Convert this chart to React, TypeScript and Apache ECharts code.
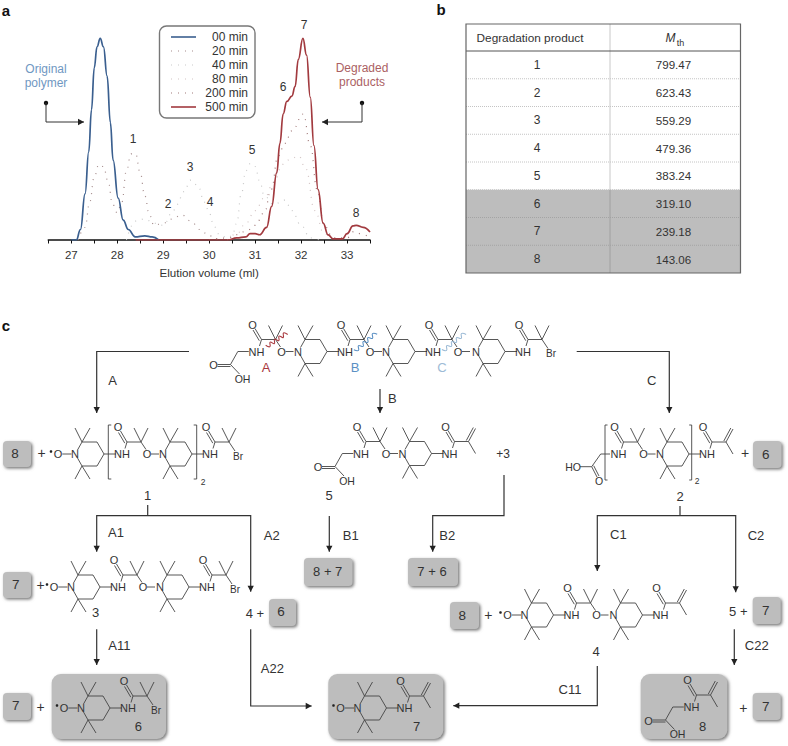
import React, { useEffect, useRef } from "react";
import * as echarts from "echarts";

const min00: number[][] = [[27.0,0],[27.11,0],[27.2,5],[27.3,22],[27.38,42],[27.44,62],[27.5,82],[27.56,92],[27.63,96],[27.7,92],[27.78,78],[27.85,56],[27.91,38],[28.02,20],[28.13,9.5],[28.24,5],[28.39,1.5],[28.6,2],[28.76,1.5],[28.9,0]];
const min20: number[][] = [[27.15,0],[27.3,6],[27.4,18],[27.5,30],[27.6,36],[27.7,35],[27.8,28],[27.9,17],[28.0,13],[28.1,18],[28.2,33],[28.3,41],[28.4,41],[28.5,32],[28.6,21],[28.7,12],[28.8,7],[29.0,8],[29.2,10],[29.4,12],[29.6,9],[29.8,5],[30.0,2],[30.2,0]];
const min40: number[][] = [[28.2,0],[28.4,9],[28.6,10],[28.8,8],[29.0,7],[29.2,13],[29.3,17],[29.45,23],[29.6,28.5],[29.75,26],[29.9,18],[30.0,13],[30.1,7],[30.2,3],[30.4,1],[30.5,2],[30.6,8],[30.7,22],[30.8,33],[30.9,36.5],[31.0,35],[31.1,28],[31.2,21],[31.4,17],[31.65,19],[31.8,14],[32.0,7],[32.2,1],[32.4,0]];
const min80: number[][] = [[30.4,0],[30.6,3],[30.8,8],[31.0,14],[31.2,20],[31.4,27],[31.6,36],[31.8,39],[31.95,40],[32.1,34],[32.3,14],[32.5,3],[32.7,0]];
const min200: number[][] = [[30.0,0],[30.4,1],[30.8,4],[31.0,7],[31.2,13],[31.35,24],[31.5,40],[31.65,46],[31.8,52],[32.05,60],[32.2,45],[32.35,24],[32.5,7],[32.7,1],[33.0,1],[33.15,4],[33.3,3],[33.5,1]];
const min500: number[][] = [[28.4,0],[30.4,0],[30.6,1],[30.8,1.5],[30.89,3],[31.0,3],[31.1,2.5],[31.25,6],[31.36,16],[31.47,32],[31.54,46],[31.61,60],[31.69,66],[31.8,68.5],[31.87,73],[31.94,86],[32.04,96],[32.12,88],[32.2,68],[32.28,45],[32.37,24],[32.48,8],[32.59,2.4],[32.7,0.5],[32.9,0.5],[33.0,3],[33.13,6.7],[33.2,7],[33.35,6],[33.5,3.8]];

const legendLabels = ["00 min", "20 min", "40 min", "80 min", "200 min", "500 min"];
const legendColors = ["#3a5f8f", "#a58c8c", "#c9c9c9", "#d2c4c4", "#a07878", "#a23a3f"];
const peakLabels = ["1", "2", "3", "4", "5", "6", "7", "8"];
const products = ["1", "2", "3", "4", "5", "6", "7", "8"];
const masses = ["799.47", "623.43", "559.29", "479.36", "383.24", "319.10", "239.18", "143.06"];

const FF = '"Liberation Sans", Arial, sans-serif';
const INK = "#333";

function buildGraphics() {
  const els: any[] = [];
  const seg = (x1: number, y1: number, x2: number, y2: number, c = "#444", w = 0.9) =>
    els.push({ type: "line", silent: true, shape: { x1, y1, x2, y2 }, style: { stroke: c, lineWidth: w, fill: "none" } });
  const txt = (text: string, x: number, y: number, size = 11, fill = INK, align = "center", extra = "") =>
    els.push({ type: "text", silent: true, x, y, style: { text, fill, font: `${extra} ${size}px ${FF}`.trim(), textAlign: align, textVerticalAlign: "middle", align, verticalAlign: "middle" } });
  const head = (x: number, y: number, dir: string) => {
    const s = 4.5, l = 6;
    const pts = dir === "d" ? [[x - s * 0.7, y - l], [x + s * 0.7, y - l], [x, y]]
      : dir === "r" ? [[x - l, y - s * 0.7], [x - l, y + s * 0.7], [x, y]]
      : [[x + l, y - s * 0.7], [x + l, y + s * 0.7], [x, y]];
    els.push({ type: "polygon", silent: true, shape: { points: pts }, style: { fill: "#222" } });
  };
  const path = (pts: number[][], dir: string, w = 1.2) => {
    els.push({ type: "polyline", silent: true, shape: { points: pts }, style: { stroke: "#333", lineWidth: w, fill: "none" } });
    const e = pts[pts.length - 1];
    if (dir) head(e[0], e[1], dir);
  };
  const box = (x: number, y: number, w: number, h: number, r = 4) =>
    els.push({ type: "rect", silent: true, shape: { x, y, width: w, height: h, r }, style: { fill: "#bdbdbd", shadowBlur: 3, shadowOffsetX: 1.5, shadowOffsetY: 1.5, shadowColor: "#777" } });
  const wavy = (x1: number, y1: number, x2: number, y2: number, c: string) => {
    const n = 9, pts: number[][] = [];
    const dx = x2 - x1, dy = y2 - y1, L = Math.hypot(dx, dy);
    for (let i = 0; i <= n; i++) {
      const o = i % 2 ? 1.8 : -1.8;
      pts.push([x1 + (dx * i) / n + (-dy / L) * o, y1 + (dy * i) / n + (dx / L) * o]);
    }
    els.push({ type: "polyline", silent: true, shape: { points: pts, smooth: 0.5 }, style: { stroke: c, lineWidth: 1.1, fill: "none" } });
  };

  const ring = (nx: number, y: number) => {
    const v = [[7, -12], [22, -12], [29, 0], [22, 12], [7, 12]];
    seg(nx + 2.5, y - 4, nx + 7, y - 12);
    seg(nx + 2.5, y + 4, nx + 7, y + 12);
    for (let i = 0; i < v.length - 1; i++) seg(nx + v[i][0], y + v[i][1], nx + v[i + 1][0], y + v[i + 1][1]);
    seg(nx + 7, y - 12, nx, y - 26); seg(nx + 7, y - 12, nx + 15, y - 26);
    seg(nx + 7, y + 12, nx, y + 25); seg(nx + 7, y + 12, nx + 15, y + 25);
    seg(nx + 29, y, nx + 41, y);
    txt("N", nx, y, 11);
  };
  const radical = (nx: number, y: number) => {
    txt("O", nx - 17, y, 11);
    seg(nx - 12.7, y, nx - 3.5, y);
    els.push({ type: "circle", silent: true, shape: { cx: nx - 24, cy: y - 2.5, r: 1.3 }, style: { fill: "#222" } });
  };
  const amide = (nx: number, y: number, tail: string) => {
    txt("NH", nx + 47, y, 11);
    seg(nx + 52, y - 12, nx + 50, y - 5.5);
    seg(nx + 52, y - 12, nx + 45.5, y - 23);
    seg(nx + 49.8, y - 10.8, nx + 43.5, y - 21.5);
    txt("O", nx + 43, y - 27, 11);
    seg(nx + 52, y - 12, nx + 66, y - 12);
    if (tail === "ene") {
      seg(nx + 66, y - 12, nx + 73, y - 25);
      seg(nx + 63.8, y - 13, nx + 70.8, y - 26);
      seg(nx + 66, y - 12, nx + 73, y);
      return;
    }
    seg(nx + 66, y - 12, nx + 59, y - 26);
    seg(nx + 66, y - 12, nx + 73, y - 26);
    if (tail === "ether") {
      seg(nx + 66, y - 12, nx + 71, y - 4.5);
      txt("O", nx + 72, y, 11);
      seg(nx + 76, y, nx + 84, y);
    } else {
      seg(nx + 66, y - 12, nx + 72, y - 3);
      txt("Br", nx + 75, y + 2, 10);
    }
  };
  const acid = (nh: number, y: number) => {
    seg(nh - 7.7, y, nh - 18.7, y);
    seg(nh - 18.7, y, nh - 26, y + 13);
    seg(nh - 26, y + 13, nh - 39, y + 13);
    seg(nh - 26, y + 15, nh - 39, y + 15);
    seg(nh - 26, y + 13, nh - 17, y + 22.5);
    txt("O", nh - 43, y + 13.5, 11);
    txt("OH", nh - 14, y + 27, 10.5);
  };
  const bracket = (x: number, y1: number, y2: number, t: number) => {
    els.push({ type: "polyline", silent: true, shape: { points: [[x + t, y1], [x, y1], [x, y2], [x + t, y2]] }, style: { stroke: "#444", lineWidth: 0.9, fill: "none" } });
  };

  // ---------- panel letters
  txt("a", 6, 10, 15, "#111", "center", "bold");
  txt("b", 441, 9, 15, "#111", "center", "bold");
  txt("c", 6, 325, 15, "#111", "center", "bold");

  // ---------- panel a annotations
  const blueT = "#6f97c2", redT = "#ab5f63";
  txt("Original", 46, 69, 12, blueT);
  txt("polymer", 46, 83, 12, blueT);
  txt("Degraded", 362, 68, 12, redT);
  txt("products", 362, 82, 12, redT);
  els.push({ type: "circle", silent: true, shape: { cx: 46, cy: 103, r: 2.2 }, style: { fill: "#111" } });
  els.push({ type: "circle", silent: true, shape: { cx: 362, cy: 103, r: 2.2 }, style: { fill: "#111" } });
  path([[46, 103], [46, 122], [84, 122]], "r", 1);
  path([[362, 103], [362, 122], [322, 122]], "l", 1);
  const peakXY = [[133, 139], [168, 204], [190, 167], [210, 202], [252, 150], [283, 87], [304, 25], [356, 213]];
  peakLabels.forEach((p, i) => txt(p, peakXY[i][0], peakXY[i][1], 12));

  // legend
  els.push({ type: "rect", silent: true, shape: { x: 159.5, y: 26, width: 95.5, height: 92, r: 7 }, style: { fill: "#fff", stroke: "#777", lineWidth: 1.4 } });
  legendLabels.forEach((l, i) => {
    const y = 37 + i * 14;
    txt(l, 248, y, 12, INK, "right");
    const solid = i === 0 || i === 5;
    els.push({ type: "line", silent: true, shape: { x1: 171, y1: y, x2: 196, y2: y }, style: { stroke: legendColors[i], lineWidth: solid ? 1.6 : 1.2, lineDash: solid ? null : [1, 6] } });
  });

  // ---------- panel b table
  const L = 466, R = 740.5, C = 610, T = 24, H = 51, B = 273;
  const rh = (B - H) / 8;
  els.push({ type: "rect", silent: true, shape: { x: L, y: H + 5 * rh, width: R - L, height: 3 * rh }, style: { fill: "#bdbdbd" } });
  for (let i = 1; i < 8; i++) {
    const yy = H + i * rh;
    els.push({ type: "line", silent: true, shape: { x1: L, y1: yy, x2: R, y2: yy }, style: { stroke: i > 5 ? "#a4a4a4" : "#c4c4c4", lineWidth: 1, lineDash: [1, 1] } });
  }
  els.push({ type: "line", silent: true, shape: { x1: C, y1: T, x2: C, y2: H + 5 * rh }, style: { stroke: "#c8c8c8", lineWidth: 1 } });
  els.push({ type: "line", silent: true, shape: { x1: C, y1: H + 5 * rh, x2: C, y2: B }, style: { stroke: "#a0a0a0", lineWidth: 1 } });
  seg(L, H, R, H, "#555", 1);
  els.push({ type: "rect", silent: true, shape: { x: L, y: T, width: R - L, height: B - T }, style: { fill: "none", stroke: "#666", lineWidth: 1.2 } });
  txt("Degradation product", 530, 38, 11.8);
  txt("M", 670.5, 38, 12, INK, "center", "italic");
  txt("th", 680.5, 42.5, 9);
  products.forEach((p, i) => {
    const yy = H + (i + 0.5) * rh;
    txt(p, 537, yy, 12);
    txt(masses[i], 673.5, yy, 11.6);
  });

  // ---------- panel c: top molecule
  amide(209.5, 351.5, "ether"); acid(256.5, 351.5);
  ring(298, 351.5); amide(298, 351.5, "ether");
  ring(386, 351.5); amide(386, 351.5, "ether");
  ring(476, 351.5); amide(476, 351.5, "br");
  wavy(266.7, 346.7, 286.7, 333, "#a8383d");
  wavy(355, 351, 376, 333, "#5b90c4");
  wavy(443, 351, 465, 333, "#9dbbd6");
  txt("A", 266, 367, 13, "#a8383d");
  txt("B", 355, 367, 13, "#5b90c4");
  txt("C", 442, 367, 13, "#9dbbd6");

  // top arrows
  path([[189, 351.5], [96.7, 351.5], [96.7, 413]], "d");
  path([[380, 389], [380, 413]], "d");
  path([[576.7, 351.5], [669.3, 351.5], [669.3, 413]], "d");
  txt("A", 112.7, 380.7, 13); txt("B", 392.3, 398, 13); txt("C", 651.7, 380, 13);

  // row 2
  box(3, 441, 28, 26); txt("8", 15, 453, 13.5);
  txt("+", 41.7, 453, 14);
  radical(75, 454); ring(75, 454); amide(75, 454, "ether"); ring(163, 454); amide(163, 454, "br");
  bracket(108.3, 425, 479, 3); bracket(196.7, 425, 479, -3);
  txt("2", 203, 482, 8.5); txt("1", 147.7, 495, 13);

  amide(314, 453.5, "ether"); acid(361, 453.5); ring(402.5, 453.5); amide(402.5, 453.5, "ene");
  txt("+3", 503, 454, 12); txt("5", 329, 495, 13);

  amide(571.5, 454, "ether"); ring(660, 454); amide(660, 454, "ene");
  seg(610, 454, 600.7, 454); seg(600.7, 454, 591.7, 466.7);
  seg(591.7, 466.7, 580, 466.7); seg(591.7, 466.7, 597, 477); seg(593.7, 465.7, 599, 476);
  txt("HO", 573, 466.7, 10.5); txt("O", 599, 481, 10.5);
  bracket(605, 425, 480, 2.5); bracket(691.7, 425, 480, -2.5);
  txt("2", 697, 481, 8.5); txt("2", 680, 496, 13);
  txt("+", 745, 453, 14);
  box(753, 441, 28.5, 27); txt("6", 765.7, 454, 13.5);

  // row 3 connectors
  seg(147.7, 505, 147.7, 515.7, "#333", 1.2);
  path([[96.7, 551.7], [96.7, 515.7], [250.7, 515.7], [250.7, 591.7]], "d");
  head(96.7, 551.7, "d");
  path([[329.3, 516], [329.3, 551.7]], "d");
  path([[504, 475], [504, 515.7], [432.7, 515.7], [432.7, 551.7]], "d");
  seg(680, 506, 680, 515.7, "#333", 1.2);
  path([[597.3, 571], [597.3, 515.7], [735.7, 515.7], [735.7, 592.3]], "d");
  head(597.3, 571, "d");
  txt("A1", 116, 532.7, 13); txt("A2", 271.7, 535, 13); txt("B1", 350.7, 535, 13);
  txt("B2", 447.3, 535, 13); txt("C1", 618.3, 534, 13); txt("C2", 756, 535, 13);

  box(304, 558, 48.5, 28); txt("8 + 7", 327.7, 571.7, 13);
  box(408, 558, 50, 28); txt("7 + 6", 432, 571.7, 13);

  box(3, 572, 28, 26); txt("7", 15.7, 584, 13.5);
  txt("+", 40.7, 585, 14);
  radical(71, 587); ring(71, 587); amide(71, 587, "ether"); ring(160, 587); amide(160, 587, "br");
  txt("3", 95.7, 612.7, 13);
  txt("4 +", 255, 613, 13);
  box(269, 599, 27, 27); txt("6", 281, 611.7, 13.5);

  box(450, 602, 29, 27); txt("8", 462.3, 615.7, 13.5);
  txt("+", 488.3, 615, 14);
  radical(524.5, 615); ring(524.5, 615); amide(524.5, 615, "ether"); ring(613.5, 615); amide(613.5, 615, "ene");
  txt("4", 596, 651, 13);
  txt("5 +", 738.3, 611, 13);
  box(752.7, 597, 28, 27); txt("7", 765.7, 610, 13.5);

  // row 4 arrows
  path([[96.7, 629.3], [96.7, 665]], "d"); txt("A11", 119.3, 645, 13);
  path([[250.7, 629.3], [250.7, 706], [311.7, 706]], "r"); txt("A22", 272.3, 668.3, 13);
  path([[597.3, 666], [597.3, 705.7], [453.3, 705.7]], "l"); txt("C11", 570, 689, 13);
  path([[734.3, 629.3], [734.3, 665]], "d"); txt("C22", 756.7, 645, 13);

  // row 4
  box(3, 693, 28, 27); txt("7", 15.7, 705.7, 13.5);
  txt("+", 40.7, 707, 14);
  box(51.7, 674, 114.3, 65, 9);
  radical(81, 708); ring(81, 708); amide(81, 708, "br");
  txt("6", 138.3, 726.7, 13);

  box(328.3, 674, 115, 65, 9);
  radical(357.5, 708); ring(357.5, 708); amide(357.5, 708, "ene");
  txt("7", 416.7, 726.7, 13);

  box(640.7, 674, 86.6, 65, 9);
  amide(644.5, 707, "ene"); acid(691.5, 707);
  txt("8", 702.7, 726.7, 13);
  txt("+", 743.3, 708, 14);
  box(752.7, 693, 28, 27); txt("7", 765.7, 706.7, 13.5);

  return els;
}

export default function App() {
  const ref = useRef<HTMLDivElement>(null);
  useEffect(() => {
    const chart = echarts.init(ref.current!, undefined, { renderer: "svg" });
    const dotted = (name: string, data: number[][], color: string) => ({
      name, type: "line", data, showSymbol: false, smooth: 0.45, smoothMonotone: "x",
      lineStyle: { color, width: 1.2, type: [1, 6] }, z: 2,
    });
    const solid = (name: string, data: number[][], color: string) => ({
      name, type: "line", data, showSymbol: false, smooth: 0.45, smoothMonotone: "x",
      lineStyle: { color, width: 1.7 }, z: 3,
    });
    chart.setOption({
      animation: false,
      backgroundColor: "#fff",
      textStyle: { fontFamily: FF },
      grid: { left: 48.3, width: 321.7, top: 30, height: 210 },
      xAxis: {
        type: "value", min: 26.5, max: 33.5, interval: 0.5,
        name: "Elution volume (ml)", nameLocation: "middle", nameGap: 26,
        nameTextStyle: { color: INK, fontSize: 11.6, fontFamily: FF },
        axisLine: { show: true, onZero: false, lineStyle: { color: "#111", width: 1.6 } },
        axisTick: { show: true, length: 3.5, lineStyle: { color: "#111", width: 1 } },
        splitLine: { show: false },
        axisLabel: {
          color: INK, fontSize: 11.5, margin: 9, fontFamily: FF, showMinLabel: true, showMaxLabel: true,
          formatter: (v: number) => (Number.isInteger(v) ? String(v) : ""),
        },
      },
      yAxis: { type: "value", min: 0, max: 100, show: false },
      series: [
        dotted("20 min", min20, legendColors[1]),
        dotted("40 min", min40, legendColors[2]),
        dotted("80 min", min80, legendColors[3]),
        dotted("200 min", min200, legendColors[4]),
        solid("00 min", min00, legendColors[0]),
        solid("500 min", min500, legendColors[5]),
      ],
      graphic: { elements: buildGraphics() },
    });
    return () => chart.dispose();
  }, []);
  return <div ref={ref} style={{ position: "absolute", left: 0, top: 0, width: 788, height: 746 }} />;
}
